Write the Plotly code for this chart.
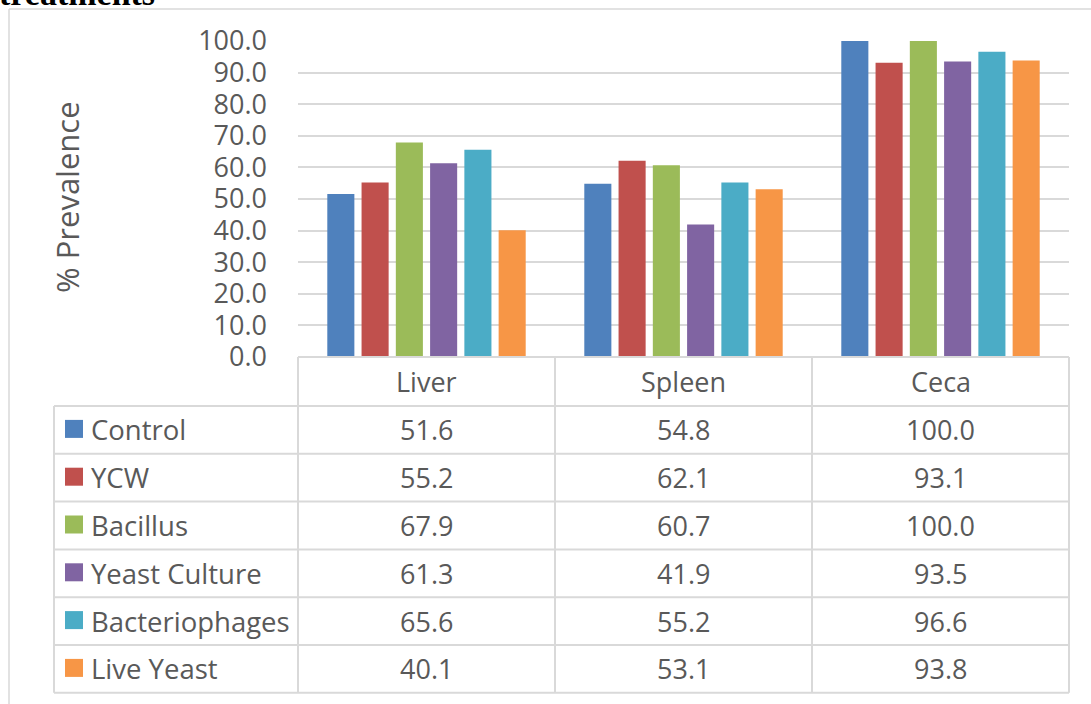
import plotly.graph_objects as go

# Prevalence (%) per organ for each treatment
organs = ["Liver", "Spleen", "Ceca"]
treatments = ["Control", "YCW", "Bacillus", "Yeast Culture", "Bacteriophages", "Live Yeast"]
control = [51.6, 54.8, 100.0]
ycw = [55.2, 62.1, 93.1]
bacillus = [67.9, 60.7, 100.0]
yeast_culture = [61.3, 41.9, 93.5]
bacteriophages = [65.6, 55.2, 96.6]
live_yeast = [40.1, 53.1, 93.8]
y_ticks = [0, 10, 20, 30, 40, 50, 60, 70, 80, 90, 100]

series = [control, ycw, bacillus, yeast_culture, bacteriophages, live_yeast]
colors = ["#4F81BD", "#C0504D", "#9BBB59", "#8064A2", "#4BACC6", "#F79646"]

W, H = 1091, 704
FONT = "Open Sans"
TXT = "#595959"
LINE = "#D9D9D9"

# pixel layout helpers
def px(x):
    return x / W

def py(y):
    return 1 - y / H

plot_left, plot_right = 298, 1069
plot_top, plot_bottom = 41, 357
label_left = 54
header_bottom = 406
row_h = 47.8
table_bottom = header_bottom + row_h * len(treatments)

fig = go.Figure()
for name, vals, col in zip(treatments, series, colors):
    fig.add_trace(go.Bar(
        x=organs, y=vals, name=name,
        marker=dict(color=col, line=dict(width=0)),
        showlegend=False,
    ))

shapes = []
# outer frame
shapes.append(dict(type="line", xref="paper", yref="paper",
                   x0=px(9), x1=px(W + 5), y0=py(9), y1=py(9),
                   line=dict(color=LINE, width=1.5)))
shapes.append(dict(type="line", xref="paper", yref="paper",
                   x0=px(9), x1=px(9), y0=py(9), y1=py(H + 5),
                   line=dict(color=LINE, width=1.5)))

# data table grid
col_edges = [plot_left + i * (plot_right - plot_left) / 3 for i in range(4)]
shapes.append(dict(type="line", xref="paper", yref="paper",
                   x0=px(plot_left), x1=px(plot_right), y0=py(plot_bottom), y1=py(plot_bottom),
                   line=dict(color=LINE, width=2)))
for i in range(len(treatments) + 1):
    yy = header_bottom + i * row_h
    shapes.append(dict(type="line", xref="paper", yref="paper",
                       x0=px(label_left), x1=px(plot_right), y0=py(yy), y1=py(yy),
                       line=dict(color=LINE, width=2)))
shapes.append(dict(type="line", xref="paper", yref="paper",
                   x0=px(label_left), x1=px(label_left), y0=py(header_bottom), y1=py(table_bottom),
                   line=dict(color=LINE, width=2)))
for xe in col_edges:
    shapes.append(dict(type="line", xref="paper", yref="paper",
                       x0=px(xe), x1=px(xe), y0=py(plot_bottom), y1=py(table_bottom),
                       line=dict(color=LINE, width=2)))

annotations = []
# header row: organ names
for organ in organs:
    annotations.append(dict(x=organ, xref="x", y=py((plot_bottom + header_bottom) / 2), yref="paper",
                            text=organ, showarrow=False, xanchor="center", yanchor="middle",
                            font=dict(family=FONT, size=27, color=TXT)))
# body rows: legend key + values
for r, (name, vals, col) in enumerate(zip(treatments, series, colors)):
    yc = header_bottom + (r + 0.5) * row_h
    shapes.append(dict(type="rect", xref="paper", yref="paper",
                       x0=px(65), x1=px(83), y0=py(yc - 10), y1=py(yc + 8),
                       fillcolor=col, line=dict(width=0)))
    annotations.append(dict(x=px(89), xref="paper", y=py(yc), yref="paper",
                            text=name, showarrow=False, xanchor="left", yanchor="middle",
                            font=dict(family=FONT, size=27.5, color=TXT)))
    for organ, v in zip(organs, vals):
        annotations.append(dict(x=organ, xref="x", y=py(yc), yref="paper",
                                text=f"{v:.1f}", showarrow=False, xanchor="center", yanchor="middle",
                                font=dict(family=FONT, size=27, color=TXT)))

# axis title
annotations.append(dict(x=px(67), xref="paper", y=py(197), yref="paper",
                        text="% Prevalence", textangle=-90, showarrow=False,
                        xanchor="center", yanchor="middle",
                        font=dict(family=FONT, size=31, color=TXT)))
# caption running off the top edge
annotations.append(dict(x=px(-3), xref="paper", y=py(14), yref="paper",
                        text="<b>treatments</b>", showarrow=False,
                        xanchor="left", yanchor="bottom",
                        font=dict(family="Liberation Serif", size=34, color="#000000")))

fig.update_layout(
    width=W, height=H,
    margin=dict(l=0, r=0, t=0, b=0, pad=0, autoexpand=False),
    paper_bgcolor="white", plot_bgcolor="white",
    barmode="group", bargap=0.2, bargroupgap=0.21,
    shapes=shapes, annotations=annotations,
    xaxis=dict(domain=[px(plot_left), px(plot_right)], range=[-0.5, 2.5],
               showticklabels=False, showgrid=False, zeroline=False, showline=False,
               ticks="", fixedrange=True, automargin=False),
    yaxis=dict(domain=[py(plot_bottom), py(plot_top)], range=[0, 100],
               tickvals=y_ticks, tickformat=".1f", ticklabelstandoff=30,
               tickfont=dict(family=FONT, size=27, color=TXT),
               showgrid=True, gridcolor=LINE, gridwidth=2,
               zeroline=False, showline=False, ticks="", automargin=False),
)

fig.write_html("out.html")
